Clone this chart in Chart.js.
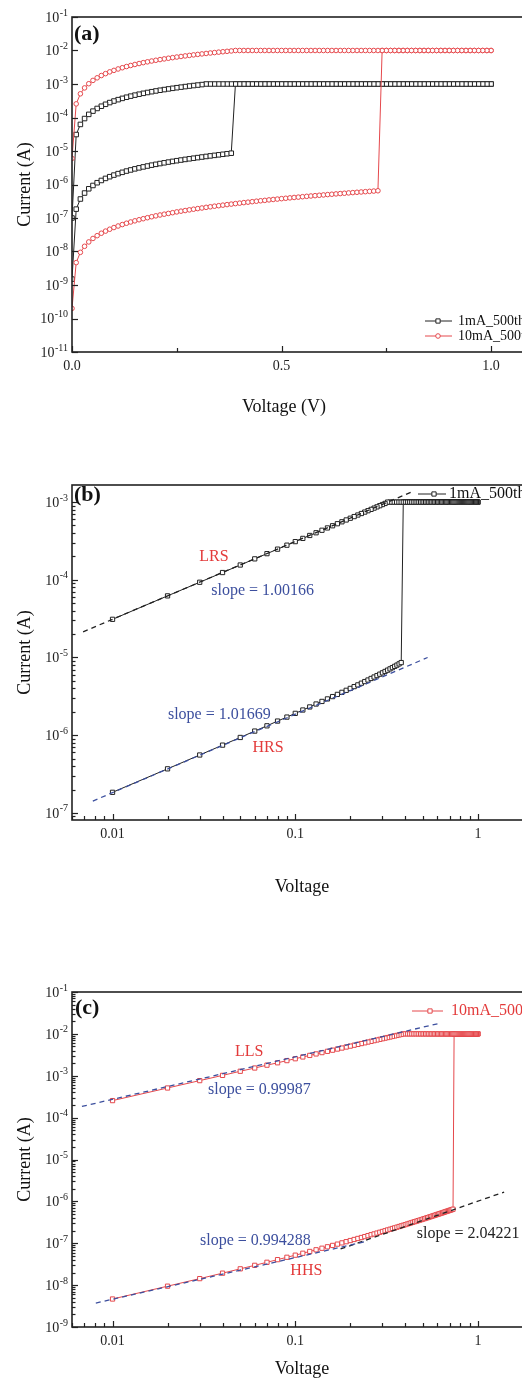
<!DOCTYPE html>
<html>
<head>
<meta charset="utf-8">
<script src="https://cdn.jsdelivr.net/npm/chart.js@4.4.1/dist/chart.umd.min.js"></script>
<style>
  html, body { margin: 0; padding: 0; background: #fff; overflow: hidden; }
  #page { position: relative; width: 522px; height: 1378px; overflow: hidden; }
  canvas { position: absolute; left: 0; }
</style>
</head>
<body>
<div id="page">
  <canvas id="panel-a" width="560" height="430" style="top:0px"></canvas>
  <canvas id="panel-b" width="560" height="470" style="top:440px"></canvas>
  <canvas id="panel-c" width="560" height="460" style="top:945px"></canvas>
</div>
<script>
Chart.defaults.font.family = '"Liberation Serif", "Times New Roman", serif';
Chart.defaults.color = '#222';

const ink = '#222';
const red = '#e5484c';
const blue = '#3c4f9e';
const labelRed = '#e33a3a';

// sweep voltages (V), 0 -> 1 V in 0.01 V steps
const voltage = [
  0.00, 0.01, 0.02, 0.03, 0.04, 0.05, 0.06, 0.07, 0.08, 0.09,
  0.10, 0.11, 0.12, 0.13, 0.14, 0.15, 0.16, 0.17, 0.18, 0.19,
  0.20, 0.21, 0.22, 0.23, 0.24, 0.25, 0.26, 0.27, 0.28, 0.29,
  0.30, 0.31, 0.32, 0.33, 0.34, 0.35, 0.36, 0.37, 0.38, 0.39,
  0.40, 0.41, 0.42, 0.43, 0.44, 0.45, 0.46, 0.47, 0.48, 0.49,
  0.50, 0.51, 0.52, 0.53, 0.54, 0.55, 0.56, 0.57, 0.58, 0.59,
  0.60, 0.61, 0.62, 0.63, 0.64, 0.65, 0.66, 0.67, 0.68, 0.69,
  0.70, 0.71, 0.72, 0.73, 0.74, 0.75, 0.76, 0.77, 0.78, 0.79,
  0.80, 0.81, 0.82, 0.83, 0.84, 0.85, 0.86, 0.87, 0.88, 0.89,
  0.90, 0.91, 0.92, 0.93, 0.94, 0.95, 0.96, 0.97, 0.98, 0.99,
  1.00
];

// 1mA compliance: high resistance branch (0 .. 0.38 V), low resistance branch (0 .. 0.31 V)
const compliance1mA = 1e-3;
const hrs1mA = [
  1.5e-9, 1.84e-7, 3.69e-7, 5.56e-7, 7.45e-7, 9.35e-7, 1.13e-6, 1.32e-6, 1.52e-6, 1.71e-6,
  1.91e-6, 2.11e-6, 2.31e-6, 2.52e-6, 2.72e-6, 2.93e-6, 3.14e-6, 3.35e-6, 3.56e-6, 3.78e-6,
  4.00e-6, 4.22e-6, 4.44e-6, 4.67e-6, 4.90e-6, 5.13e-6, 5.37e-6, 5.61e-6, 5.85e-6, 6.10e-6,
  6.35e-6, 6.61e-6, 6.87e-6, 7.14e-6, 7.41e-6, 7.69e-6, 7.98e-6, 8.28e-6, 8.60e-6
];
const lrs1mA = [
  1.0e-7, 3.10e-5, 6.21e-5, 9.30e-5, 1.24e-4, 1.55e-4, 1.86e-4, 2.17e-4, 2.48e-4, 2.79e-4,
  3.10e-4, 3.41e-4, 3.72e-4, 4.03e-4, 4.34e-4, 4.65e-4, 4.96e-4, 5.27e-4, 5.58e-4, 5.89e-4,
  6.20e-4, 6.51e-4, 6.82e-4, 7.13e-4, 7.44e-4, 7.75e-4, 8.06e-4, 8.37e-4, 8.68e-4, 8.99e-4,
  9.30e-4, 9.61e-4
];

// 10mA compliance: HHS branch (0 .. 0.73 V), LLS branch (0 .. 0.38 V)
const compliance10mA = 1e-2;
const hhs10mA = [
  2.0e-10, 4.66e-9, 9.44e-9, 1.43e-8, 1.93e-8, 2.45e-8, 2.97e-8, 3.51e-8, 4.06e-8, 4.62e-8,
  5.19e-8, 5.77e-8, 6.37e-8, 6.98e-8, 7.60e-8, 8.23e-8, 8.87e-8, 9.53e-8, 1.02e-7, 1.09e-7,
  1.16e-7, 1.23e-7, 1.30e-7, 1.37e-7, 1.44e-7, 1.52e-7, 1.60e-7, 1.67e-7, 1.75e-7, 1.83e-7,
  1.91e-7, 1.99e-7, 2.08e-7, 2.16e-7, 2.25e-7, 2.33e-7, 2.42e-7, 2.51e-7, 2.60e-7, 2.69e-7,
  2.78e-7, 2.88e-7, 2.97e-7, 3.07e-7, 3.17e-7, 3.27e-7, 3.36e-7, 3.47e-7, 3.57e-7, 3.67e-7,
  3.78e-7, 3.88e-7, 3.99e-7, 4.10e-7, 4.20e-7, 4.32e-7, 4.43e-7, 4.54e-7, 4.65e-7, 4.77e-7,
  4.88e-7, 5.00e-7, 5.12e-7, 5.24e-7, 5.36e-7, 5.48e-7, 5.61e-7, 5.73e-7, 5.86e-7, 5.98e-7,
  6.11e-7, 6.24e-7, 6.37e-7, 6.50e-7
];
const lls10mA = [
  6.0e-6, 2.55e-4, 5.10e-4, 7.65e-4, 1.02e-3, 1.28e-3, 1.53e-3, 1.79e-3, 2.04e-3, 2.30e-3,
  2.55e-3, 2.81e-3, 3.06e-3, 3.32e-3, 3.57e-3, 3.83e-3, 4.08e-3, 4.34e-3, 4.59e-3, 4.85e-3,
  5.10e-3, 5.36e-3, 5.61e-3, 5.87e-3, 6.12e-3, 6.38e-3, 6.63e-3, 6.89e-3, 7.14e-3, 7.40e-3,
  7.65e-3, 7.91e-3, 8.16e-3, 8.42e-3, 8.67e-3, 8.93e-3, 9.18e-3, 9.44e-3, 9.69e-3
];

// fitted lines (end points)
const fitLrsV = [0.0069, 0.43];   const fitLrsI = [2.14e-5, 1.34e-3];
const fitHrsV = [0.0078, 0.53];   const fitHrsI = [1.42e-7, 1.0e-5];
const fitLlsV = [0.0068, 0.62];   const fitLlsI = [1.85e-4, 1.8e-2];
const fitHhsV = [0.0081, 0.25];   const fitHhsI = [3.74e-9, 1.13e-7];
const fitHhs2V = [0.177, 1.39];   const fitHhs2I = [7.3e-8, 1.67e-6];

// axis ticks
const xTicksA = [0, 0.25, 0.5, 0.75, 1.0];
const xLabelsA = { 0: '0.0', 0.5: '0.5', 1: '1.0' };
const yDecadesA = [1e-11, 1e-10, 1e-9, 1e-8, 1e-7, 1e-6, 1e-5, 1e-4, 1e-3, 1e-2, 1e-1];
const yDecadesB = [1e-8, 1e-7, 1e-6, 1e-5, 1e-4, 1e-3];
const yDecadesC = [1e-9, 1e-8, 1e-7, 1e-6, 1e-5, 1e-4, 1e-3, 1e-2, 1e-1];
const xDecadesLog = [0.001, 0.01, 0.1, 1];
const xLabelsLog = { 0.01: '0.01', 0.1: '0.1', 1: '1' };

function isDecade(v) {
  const l = Math.log10(v);
  return Math.abs(l - Math.round(l)) < 1e-6;
}
function withMinors(decades, lo, hi) {
  const out = [];
  decades.forEach(d => {
    for (let m = 1; m <= 9; m++) {
      const v = +(m * d).toPrecision(3);
      if (v >= lo * 0.999 && v <= hi * 1.001) out.push(v);
    }
  });
  return out;
}

function sweep(low, high, compliance, logX) {
  const up = voltage.map((v, k) => ({ x: v, y: k < low.length ? low[k] : compliance }));
  const down = voltage.map((v, k) => ({ x: v, y: k < high.length ? high[k] : compliance })).reverse();
  const pts = up.concat(down);
  return logX ? pts.filter(p => p.x > 0) : pts;
}

function series(label, pts, color, style, radius, order) {
  return {
    label: label, data: pts, showLine: true, order: order,
    borderColor: color, borderWidth: 1,
    pointStyle: style, pointRadius: radius, pointHoverRadius: radius,
    pointBorderWidth: 1, pointBorderColor: color, pointBackgroundColor: '#fff'
  };
}
function fitLine(vs, is, color) {
  return {
    data: vs.map((v, k) => ({ x: v, y: is[k] })), showLine: true, order: 0,
    borderColor: color, borderWidth: 1.3, borderDash: [5, 4], pointRadius: 0
  };
}

/* =========================
   frame, inward ticks, power labels, notes
   ========================= */
const decor = {
  id: 'decor',
  afterDatasetsDraw(chart, args, o) {
    const { ctx, chartArea: a } = chart;
    const x = chart.scales.x, y = chart.scales.y;
    ctx.save();
    ctx.strokeStyle = ink;
    ctx.lineWidth = 1.2;
    x.ticks.forEach(t => {
      const px = Math.round(x.getPixelForValue(t.value)) + 0.5;
      const len = o.xMajor(t.value) ? 6 : 4;
      ctx.beginPath(); ctx.moveTo(px, a.bottom); ctx.lineTo(px, a.bottom - len); ctx.stroke();
    });
    y.ticks.forEach(t => {
      const py = Math.round(y.getPixelForValue(t.value)) + 0.5;
      const len = isDecade(t.value) ? 6 : 3.5;
      ctx.beginPath(); ctx.moveTo(a.left, py); ctx.lineTo(a.left + len, py); ctx.stroke();
    });
    ctx.lineWidth = 1.6;
    ctx.strokeRect(a.left, a.top, a.right - a.left, a.bottom - a.top);

    // y tick labels as 10 with a raised exponent
    ctx.fillStyle = ink;
    ctx.textAlign = 'right';
    ctx.textBaseline = 'alphabetic';
    y.ticks.filter(t => isDecade(t.value)).forEach(t => {
      const py = y.getPixelForValue(t.value);
      const exp = String(Math.round(Math.log10(t.value)));
      const right = a.left - 4;
      ctx.font = '10px "Liberation Serif"';
      const ew = ctx.measureText(exp).width;
      ctx.fillText(exp, right, py - 1.5);
      ctx.font = '14px "Liberation Serif"';
      ctx.fillText('10', right - ew - 0.5, py + 4.8);
    });

    // panel letter
    ctx.fillStyle = '#111';
    ctx.textBaseline = 'middle';
    ctx.textAlign = 'left';
    ctx.font = 'bold 22px "Liberation Serif"';
    ctx.fillText(o.letter, a.left + o.letterAt[0], a.top + o.letterAt[1]);

    // notes placed at data coordinates
    ctx.font = '16px "Liberation Serif"';
    o.notes.forEach(n => {
      ctx.fillStyle = n.color;
      ctx.fillText(n.text, x.getPixelForValue(n.v), y.getPixelForValue(n.i));
    });

    // legend
    const lg = o.legend;
    ctx.font = lg.size + 'px "Liberation Serif"';
    lg.rows.forEach(r => {
      const ly = a.top + r.y;
      ctx.strokeStyle = r.color;
      ctx.lineWidth = 1;
      ctx.beginPath(); ctx.moveTo(a.left + lg.x0, ly); ctx.lineTo(a.left + lg.x1, ly); ctx.stroke();
      ctx.fillStyle = '#fff';
      Chart.helpers.drawPoint(ctx, { pointStyle: r.style, radius: r.radius, borderWidth: 1 }, a.left + lg.xm, ly);
      ctx.fillStyle = r.textColor;
      ctx.fillText(r.text, a.left + lg.xt, ly);
    });

    // x axis title
    ctx.fillStyle = '#111';
    ctx.textAlign = 'center';
    ctx.font = '18px "Liberation Serif"';
    ctx.fillText(o.xTitle, a.left + o.xTitleAt[0], a.bottom + o.xTitleAt[1]);
    ctx.restore();
  }
};

function yAxis(min, max, ticks, titlePad) {
  return {
    type: 'logarithmic', min: min, max: max,
    grid: { display: false, drawTicks: false }, border: { display: false },
    afterBuildTicks: s => { s.ticks = ticks.map(v => ({ value: v })); },
    afterFit: s => { s.width = 72; },
    ticks: { display: false, autoSkip: false },
    title: { display: true, text: 'Current (A)', color: '#111', font: { size: 18 }, padding: { top: titlePad, bottom: 0 } }
  };
}
function xLogAxis(ticks, height, pad) {
  return {
    type: 'logarithmic', min: 0.006, max: 2,
    grid: { display: false, drawTicks: false }, border: { display: false },
    afterBuildTicks: s => { s.ticks = ticks.map(v => ({ value: v })); },
    afterFit: s => { s.height = height; },
    ticks: { autoSkip: false, maxRotation: 0, padding: pad, font: { size: 14 }, color: ink,
             callback: v => xLabelsLog[v] || '' }
  };
}

/* =========================
   PANEL (a)
   ========================= */
new Chart(document.getElementById('panel-a'), {
  type: 'scatter',
  data: {
    datasets: [
      series('1mA_500th', sweep(hrs1mA, lrs1mA, compliance1mA, false), ink, 'rect', 3.2, 2),
      series('10mA_500th', sweep(hhs10mA, lls10mA, compliance10mA, false), red, 'circle', 2.3, 1)
    ]
  },
  options: {
    responsive: false, animation: false,
    layout: { padding: { left: 0, top: 17, right: 27, bottom: 0 } },
    plugins: {
      legend: { display: false }, tooltip: { enabled: false },
      decor: {
        letter: '(a)', letterAt: [2, 17],
        xMajor: v => xLabelsA[v] !== undefined,
        xTitle: 'Voltage (V)', xTitleAt: [212, 55],
        notes: [],
        legend: { size: 14, x0: 353, x1: 380, xm: 366, xt: 386, rows: [
          { text: '1mA_500th', y: 304, color: ink, textColor: '#111', style: 'rect', radius: 3 },
          { text: '10mA_500th', y: 319, color: red, textColor: '#111', style: 'circle', radius: 2.3 }
        ] }
      }
    },
    scales: {
      x: {
        type: 'linear', min: 0, max: 1.1,
        grid: { display: false, drawTicks: false }, border: { display: false },
        afterBuildTicks: s => { s.ticks = xTicksA.map(v => ({ value: v })); },
        afterFit: s => { s.height = 78; },
        ticks: { autoSkip: false, maxRotation: 0, padding: 6, font: { size: 14 }, color: ink,
                 callback: v => xLabelsA[v] || '' }
      },
      y: yAxis(1e-11, 1e-1, yDecadesA, 14)
    }
  },
  plugins: [decor]
});

/* =========================
   PANEL (b)
   ========================= */
new Chart(document.getElementById('panel-b'), {
  type: 'scatter',
  data: {
    datasets: [
      fitLine(fitLrsV, fitLrsI, ink),
      fitLine(fitHrsV, fitHrsI, blue),
      series('1mA_500th', sweep(hrs1mA, lrs1mA, compliance1mA, true), ink, 'rect', 3, 1)
    ]
  },
  options: {
    responsive: false, animation: false,
    layout: { padding: { left: 0, top: 45, right: 27, bottom: 0 } },
    plugins: {
      legend: { display: false }, tooltip: { enabled: false },
      decor: {
        letter: '(b)', letterAt: [2, 10],
        xMajor: isDecade,
        xTitle: 'Voltage', xTitleAt: [230, 67],
        notes: [
          { text: 'LRS', color: labelRed, v: 0.0298, i: 1.99e-4 },
          { text: 'slope = 1.00166', color: blue, v: 0.0347, i: 7.2e-5 },
          { text: 'slope = 1.01669', color: blue, v: 0.0201, i: 1.82e-6 },
          { text: 'HRS', color: labelRed, v: 0.0583, i: 6.8e-7 }
        ],
        legend: { size: 16, x0: 346, x1: 374, xm: 362, xt: 377, rows: [
          { text: '1mA_500th', y: 9, color: ink, textColor: '#111', style: 'rect', radius: 3 }
        ] }
      }
    },
    scales: {
      x: xLogAxis(withMinors(xDecadesLog, 0.006, 2), 90, 6),
      y: yAxis(8.1e-8, 1.66e-3, withMinors(yDecadesB, 8.1e-8, 1.66e-3), 14)
    }
  },
  plugins: [decor]
});

/* =========================
   PANEL (c)
   ========================= */
new Chart(document.getElementById('panel-c'), {
  type: 'scatter',
  data: {
    datasets: [
      fitLine(fitLlsV, fitLlsI, blue),
      fitLine(fitHhsV, fitHhsI, blue),
      fitLine(fitHhs2V, fitHhs2I, ink),
      series('10mA_500th', sweep(hhs10mA, lls10mA, compliance10mA, true), red, 'rect', 3, 1)
    ]
  },
  options: {
    responsive: false, animation: false,
    layout: { padding: { left: 0, top: 47, right: 27, bottom: 0 } },
    plugins: {
      legend: { display: false }, tooltip: { enabled: false },
      decor: {
        letter: '(c)', letterAt: [3, 16],
        xMajor: isDecade,
        xTitle: 'Voltage', xTitleAt: [230, 42],
        notes: [
          { text: 'LLS', color: labelRed, v: 0.0468, i: 3.69e-3 },
          { text: 'slope = 0.99987', color: blue, v: 0.0333, i: 4.57e-4 },
          { text: 'slope = 0.994288', color: blue, v: 0.0301, i: 1.13e-7 },
          { text: 'HHS', color: labelRed, v: 0.094, i: 2.17e-8 },
          { text: 'slope = 2.04221', color: ink, v: 0.462, i: 1.66e-7 }
        ],
        legend: { size: 16, x0: 340, x1: 371, xm: 358, xt: 379, rows: [
          { text: '10mA_500th', y: 19, color: red, textColor: labelRed, style: 'rect', radius: 3 }
        ] }
      }
    },
    scales: {
      x: xLogAxis(withMinors(xDecadesLog, 0.006, 2), 78, 6),
      y: yAxis(1e-9, 1e-1, withMinors(yDecadesC, 1e-9, 1e-1), 14)
    }
  },
  plugins: [decor]
});
</script>
</body>
</html>
